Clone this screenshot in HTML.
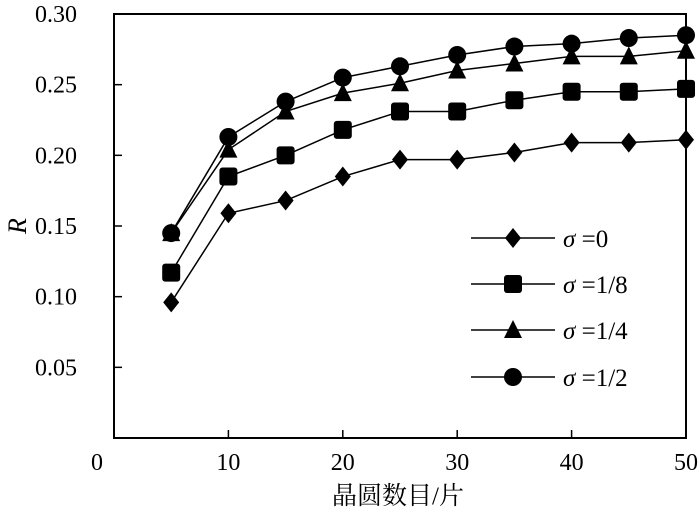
<!DOCTYPE html>
<html><head><meta charset="utf-8"><style>
body{margin:0;background:#fff}
svg text{font-family:"Liberation Serif","Noto Serif CJK SC",serif;fill:#000}
</style></head><body>
<svg id="chart" width="700" height="516" viewBox="0 0 700 516" xmlns="http://www.w3.org/2000/svg"></svg>
<script>
const categories=[5,10,15,20,25,30,35,40,45,50];
const s0=[0.096,0.159,0.168,0.185,0.197,0.197,0.202,0.209,0.209,0.211];
const s8=[0.117,0.185,0.200,0.218,0.231,0.231,0.239,0.245,0.245,0.247];
const s4=[0.145,0.204,0.231,0.244,0.251,0.260,0.265,0.270,0.270,0.274];
const s2=[0.145,0.213,0.238,0.255,0.263,0.271,0.277,0.279,0.283,0.285];
const seriesNames=["σ =0","σ =1/8","σ =1/4","σ =1/2"];
const xTicks=[0,10,20,30,40,50];
const yTicks=[0.05,0.10,0.15,0.20,0.25,0.30];
const NS="http://www.w3.org/2000/svg";
const svg=document.getElementById('chart');
const L=114,R=686,T=14,B=438;
const xs=v=>L+(v/50)*(R-L);
const ys=v=>B-(v/0.30)*(B-T);
function mk(tag,attrs,parent){const e=document.createElementNS(NS,tag);for(const k in attrs)e.setAttribute(k,attrs[k]);(parent||svg).appendChild(e);return e;}
const frame=mk('rect',{x:L,y:T,width:R-L,height:B-T,fill:'none',stroke:'#000','stroke-width':2});


yTicks.forEach(v=>{
 const t=mk('line',{x1:L,x2:L+8,y1:ys(v),y2:ys(v),stroke:'#000','stroke-width':1.5});
 
 
 const lb=mk('text',{x:77,y:ys(v)+8,'text-anchor':'end','font-size':24});
 lb.textContent=v.toFixed(2);
 
 
});
xTicks.forEach(v=>{
 const t=mk('line',{x1:xs(v),x2:xs(v),y1:B,y2:B-8,stroke:'#000','stroke-width':1.5});
 
 
 const lb=mk('text',{x:v===0?97:xs(v),y:B+32,'text-anchor':'middle','font-size':24});
 lb.textContent=v;
 
 
});
const yt=mk('text',{x:26,y:226,'text-anchor':'middle','font-size':26,'font-style':'italic',transform:'rotate(-90 26 226)'});
yt.textContent='R';


const xt=mk('text',{x:398,y:504,'text-anchor':'middle','font-size':25});
xt.textContent='晶圆数目/片';


function marker(type,x,y,g){
 if(type===0)return mk('polygon',{points:`${x},${y-10} ${x+8},${y} ${x},${y+10} ${x-8},${y}`,fill:'#000'},g);
 if(type===1)return mk('rect',{x:x-9,y:y-9,width:18,height:18,rx:3,fill:'#000'},g);
 if(type===2)return mk('polygon',{points:`${x},${y-10} ${x+9},${y+8} ${x-9},${y+8}`,fill:'#000'},g);
 return mk('circle',{cx:x,cy:y,r:9,fill:'#000'},g);
}
[s0,s8,s4,s2].forEach((s,i)=>{
 const g=mk('g',{});
 
 
 const p=mk('polyline',{points:s.map((v,j)=>xs(categories[j])+','+ys(v)).join(' '),fill:'none',stroke:'#000','stroke-width':1.5},g);
 
 
 s.forEach((v,j)=>{const m=marker(i,xs(categories[j]),ys(v),g);
  
  });
});
const legY=[238,284,330,377];
seriesNames.forEach((n,i)=>{
 const g=mk('g',{});
 
 
 mk('line',{x1:471,x2:555,y1:legY[i],y2:legY[i],stroke:'#000','stroke-width':1.5},g);
 marker(i,513,legY[i],g);
 const t=mk('text',{x:563,y:legY[i]+9,'font-size':25},g);
 const sg=mk('tspan',{'font-style':'italic'},t);sg.textContent='σ';
 const rest=mk('tspan',{},t);rest.textContent=n.slice(1);
});
</script>
</body></html>
